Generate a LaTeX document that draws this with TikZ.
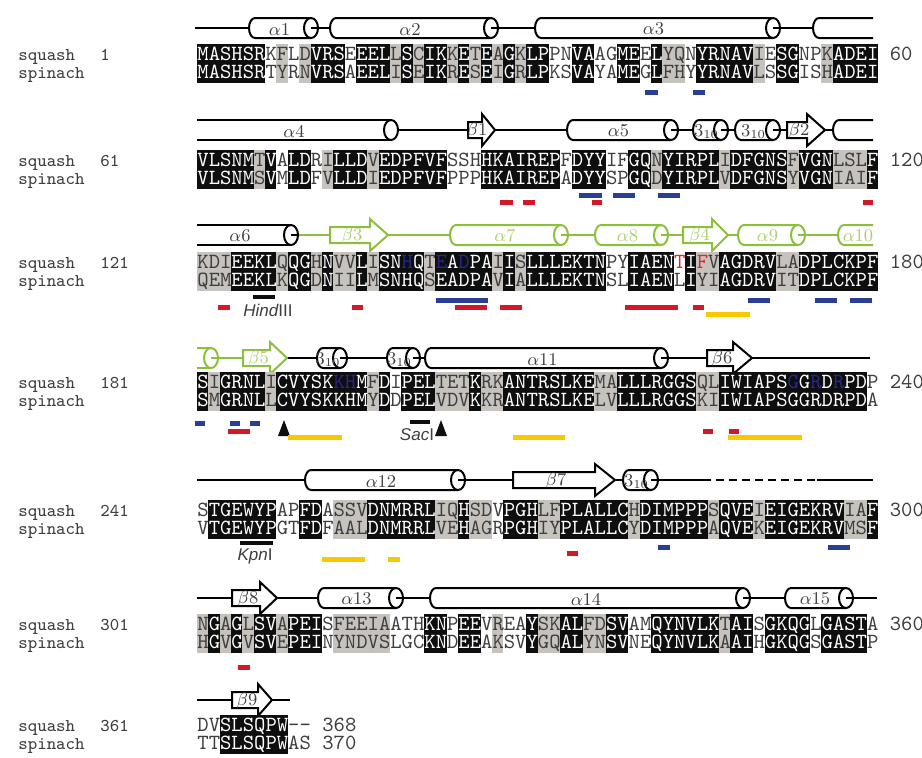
\documentclass[tikz,border=0pt]{standalone}
\usepackage{fontspec}
\usepackage{xstring}
\usepackage{etoolbox}
\newfontfamily\labelsans{Liberation Sans}
\definecolor{IdBlack}{RGB}{14,14,14}
\definecolor{SimGray}{RGB}{198,194,190}
\definecolor{ResDark}{RGB}{62,62,62}
\definecolor{ResBlue}{RGB}{38,40,140}
\definecolor{ResRed}{RGB}{225,40,40}
\definecolor{SiteRed}{RGB}{212,24,40}
\definecolor{SiteBlue}{RGB}{42,62,150}
\definecolor{SiteYellow}{RGB}{248,200,0}
\definecolor{LeafGreen}{RGB}{140,192,60}

\newcommand{\seqfont}{\ttfamily\fontsize{10.81}{12}\selectfont}
\newcommand{\cw}{11.35}

% one block of the alignment: #1 squash baseline, #2 columns, #3 squash, #4 spinach,
% #5 grey columns, #6 column/colour pairs for coloured squash residues
\newcommand{\alignrows}[6]{%
  \ifx\relax#6\relax\else
    \foreach \rpos/\tint in {#6} {\expandafter\xdef\csname rtint#1-\rpos\endcsname{\tint}}%
  \fi
  \ifx\relax#5\relax\else
    \foreach \g in {#5} {\fill[SimGray] ({197+(\g-1)*\cw},#1-16) rectangle ({197+\g*\cw},#1+23);}
  \fi
  \gdef\rowA{}\gdef\rowB{}%
  \foreach \i in {1,...,#2} {%
    \StrChar{#3}{\i}[\resA]\StrChar{#4}{\i}[\resB]%
    \ifx\resA\resB
      \fill[IdBlack] ({197+(\i-1)*\cw},#1-16) rectangle ({197+\i*\cw},#1+23);
      \def\rescol{white}%
    \else
      \def\rescol{ResDark}%
    \fi
    \ifcsname rtint#1-\i\endcsname
      \edef\sqcol{\csname rtint#1-\i\endcsname}%
    \else
      \let\sqcol\rescol
    \fi
    \xappto\rowA{\noexpand\textcolor{\sqcol}{\resA}}%
    \xappto\rowB{\noexpand\textcolor{\rescol}{\resB}}%
  }%
  \node[res] (sq-#1) at (197,#1) {\rowA};
  \node[res] (sp-#1) at (197,#1+18) {\rowB};
}
% helix: [colour] x start, x end, y, label
\newcommand{\helix}[5][black]{%
  \draw[ss, #1, fill=white] ({#3-7},#4-10) -- ({#2+6},#4-10) arc[start angle=270, end angle=90, x radius=6, y radius=10] -- ({#3-7},#4+10);
  \draw[ss, #1, fill=white] ({#3-7},#4) ellipse[x radius=7, y radius=10];
  \draw[ss, #1] ({#3-7},#4) -- (#3,#4);
  \node[sslabel, text=#1!75] at ({(#2+#3)/2-4},#4+1) {#5};
}
% strand: [colour] x start, end of body, tip, y, label
\newcommand{\strand}[6][black]{%
  \draw[ss, #1, fill=white] (#2,#5-8) -- (#3,#5-8) -- (#3,#5-16) -- (#4,#5) -- (#3,#5+16) -- (#3,#5+8) -- (#2,#5+8) -- cycle;
  \node[sslabel, text=#1!75] at ({(#2+#3)/2+2},#5+1) {#6};
}
\newcommand{\site}[4]{\fill[#1] (#2,#4-2.5) rectangle (#3,#4+2.5);}
\newcommand{\cutmark}[2]{\fill[IdBlack] (#1,#2-8) -- (#1+6,#2+8) -- (#1-6,#2+8) -- cycle;}

\begin{document}
\begin{tikzpicture}[x=0.5pt, y=-0.5pt,
    res/.style={anchor=base west, inner sep=0pt, text height=6.7pt, text depth=0pt, font=\seqfont},
    rowname/.style={anchor=base west, inner sep=0pt, text height=6pt, text depth=0pt, font=\ttfamily\fontsize{9}{10}\selectfont, text=ResDark},
    ss/.style={line width=1pt},
    sslabel/.style={inner sep=0pt, font=\fontsize{9}{10}\selectfont},
    enzyme/.style={inner sep=0pt, font=\labelsans\fontsize{8.5}{10}\selectfont, text=ResDark}]
  \useasboundingbox (0,0) rectangle (922,757);

  % Residues 1-60
  \draw[ss] (195,28) -- (873,28);
  \helix{249}{318}{28}{$\alpha$1}
  \helix{330}{498}{28}{$\alpha$2}
  \helix{535}{780}{28}{$\alpha$3}
  \draw[ss, fill=white] (873,18) -- (819,18) arc[start angle=270, end angle=90, x radius=6, y radius=10] -- (873,38);
  \node[rowname] (sq1) at (18,60) {squash};
  \node[rowname] (sq1n) at (100,60) {1};
  \node[rowname] (sp1) at (18,78) {spinach};
  \alignrows{60}{60}{MASHSRKFLDVRSEEELLSCIKKETEAGKLPPNVAAGMEELYQNYRNAVIESGNPKADEI}{MASHSRTYRNVRSAEELISEIKRESEIGRLPKSVAYAMEGLFHYYRNAVLSSGISHADEI}{8,10,18,20,23,25,27,29,42,43,50,56}{}
  \node[res, text=ResDark] (end1) at (889.4,60) {60};
  \site{SiteBlue}{645}{658}{92}
  \site{SiteBlue}{693}{705}{92}

  % Residues 61-120
  \draw[ss] (197,130) -- (873,130);
  \fill[white] (197,120) rectangle (391,140);
  \draw[ss] (197,120) -- (391,120) (197,140) -- (391,140);
  \draw[ss, fill=white] (391,130) ellipse[x radius=7, y radius=10];
  \node[sslabel, text=black!75] at (294,131) {$\alpha$4};
  \strand{468}{482}{495}{130}{$\beta$1}
  \helix{567}{678}{130}{$\alpha$5}
  \helix{693}{728}{130}{3$_{10}$}
  \helix{735}{780}{130}{3$_{10}$}
  \strand{787}{807}{825}{130}{$\beta$2}
  \draw[ss, fill=white] (873,120) -- (839,120) arc[start angle=270, end angle=90, x radius=6, y radius=10] -- (873,140);
  \node[rowname] (sq2) at (18,166) {squash};
  \node[rowname] (sq2n) at (100,166) {61};
  \node[rowname] (sp2) at (18,184) {spinach};
  \alignrows{166}{60}{VLSNMTVALDRILLDVEDPFVFSSHHKAIREPFDYYIFGQNYIRPLIDFGNSFVGNLSLF}{VLSNMSVMLDFVLLDIEDPFVFPPPHKAIREPADYYSPGQDYIRPLVDFGNSYVGNIAIF}{6,12,16,41,47,53,57,58,59}{}
  \node[res, text=ResDark] (end2) at (889.4,166) {120};
  \site{SiteRed}{500}{513}{202}
  \site{SiteRed}{523}{535}{202}
  \site{SiteBlue}{579}{602}{195}
  \site{SiteBlue}{613}{635}{195}
  \site{SiteBlue}{658}{680}{195}
  \site{SiteRed}{592}{602}{202}
  \site{SiteRed}{863}{873}{202}

  % Residues 121-180
  \fill[white] (197,225) rectangle (291,245);
  \draw[ss] (197,225) -- (291,225) (197,245) -- (291,245);
  \draw[ss, LeafGreen] (298,235) -- (873,235);
  \draw[ss, fill=white] (291,235) ellipse[x radius=7, y radius=10];
  \draw[ss] (291,235) -- (298,235);
  \node[sslabel, text=black!75] at (240,236) {$\alpha$6};
  \strand[LeafGreen]{330}{370}{388}{235}{$\beta$3}
  \helix[LeafGreen]{450}{568}{235}{$\alpha$7}
  \helix[LeafGreen]{595}{668}{235}{$\alpha$8}
  \strand[LeafGreen]{683}{712}{728}{235}{$\beta$4}
  \helix[LeafGreen]{738}{805}{235}{$\alpha$9}
  \draw[ss, LeafGreen, fill=white] (873,225) -- (844,225) arc[start angle=270, end angle=90, x radius=6, y radius=10] -- (873,245);
  \node[sslabel, text=LeafGreen!75] at (858,236) {$\alpha$10};
  \node[rowname] (sq3) at (18,268) {squash};
  \node[rowname] (sq3n) at (100,268) {121};
  \node[rowname] (sp3) at (18,286) {spinach};
  \alignrows{268}{60}{KDIEEKLQQGHNVVLISNHQTEADPAIISLLLEKTNPYIAENTIFVAGDRVLADPLCKPF}{QEMEEKLKQGDNIILMSNHQSEADPAVIALLLEKTNSLIAENLIYIAGDRVITDPLCKPF}{1,2,3,8,11,13,14,16,21,27,29,45,46,52,53}{19/ResBlue,22/ResBlue,24/ResBlue,43/ResRed,45/ResRed}
  \node[res, text=ResDark] (end3) at (889.4,268) {180};
  \site{SiteRed}{218}{230}{307}
  \fill[IdBlack] (253,295) rectangle (275,299);
  \node[enzyme] (hind) at (268,310) {\itshape Hind\upshape III};
  \site{SiteRed}{352}{363}{307}
  \site{SiteBlue}{436}{488}{300}
  \site{SiteRed}{455}{487}{307}
  \site{SiteRed}{500}{522}{307}
  \site{SiteRed}{625}{678}{307}
  \site{SiteRed}{693}{704}{307}
  \site{SiteYellow}{706}{750}{314}
  \site{SiteBlue}{748}{770}{300}
  \site{SiteBlue}{815}{837}{300}
  \site{SiteBlue}{850}{872}{300}

  % Residues 181-240
  \fill[white] (197,348) rectangle (211,368);
  \draw[ss, LeafGreen] (197,348) -- (211,348) (197,368) -- (211,368);
  \draw[ss, LeafGreen, fill=white] (211,358) ellipse[x radius=7, y radius=10];
  \draw[ss, LeafGreen] (211,358) -- (243,358);
  \draw[ss] (287,358) -- (870,358);
  \strand[LeafGreen]{243}{270}{287}{358}{$\beta$5}
  \helix{317}{347}{358}{3$_{10}$}
  \helix{387}{420}{358}{3$_{10}$}
  \helix{425}{668}{358}{$\alpha$11}
  \strand{707}{733}{752}{358}{$\beta$6}
  \node[rowname] (sq4) at (18,388) {squash};
  \node[rowname] (sq4n) at (100,388) {181};
  \node[rowname] (sp4) at (18,406) {spinach};
  \alignrows{388}{60}{SIGRNLICVYSKKHMFDIPELTETKRKANTRSLKEMALLLRGGSQLIWIAPSGGRDRPDP}{SMGRNLLCVYSKKHMYDDPELVDVKKRANTRSLKELVLLLRGGSKIIWIAPSGGRDRPDA}{2,7,16,22,23,24,26,27,36,37,45,46}{13/ResBlue,14/ResBlue,53/ResBlue,55/ResBlue,57/ResBlue}
  \node[res, text=ResDark] (end4) at (889.4,388) {240};
  \site{SiteBlue}{195}{205}{423}
  \site{SiteBlue}{230}{240}{423}
  \site{SiteBlue}{250}{260}{423}
  \site{SiteRed}{228}{250}{431}
  \cutmark{284}{428}
  \site{SiteYellow}{288}{342}{437}
  \fill[IdBlack] (410,420) rectangle (430,424);
  \node[enzyme] (sac) at (417,435) {\itshape Sac\upshape I};
  \cutmark{441}{428}
  \site{SiteYellow}{513}{565}{437}
  \site{SiteRed}{703}{713}{431}
  \site{SiteRed}{729}{739}{431}
  \site{SiteYellow}{728}{802}{437}

  % Residues 241-300
  \draw[ss] (197,480) -- (703,480);
  \draw[ss, dash pattern=on 4pt off 2.5pt] (703,480) -- (817,480);
  \draw[ss] (817,480) -- (873,480);
  \helix{305}{465}{480}{$\alpha$12}
  \strand{513}{595}{615}{480}{$\beta$7}
  \helix{623}{658}{480}{3$_{10}$}
  \node[rowname] (sq5) at (18,516) {squash};
  \node[rowname] (sq5n) at (100,516) {241};
  \node[rowname] (sp5) at (18,534) {spinach};
  \alignrows{516}{60}{STGEWYPAPFDASSVDNMRRLIQHSDVPGHLFPLALLCHDIMPPPSQVEIEIGEKRVIAF}{VTGEWYPGTFDFAALDNMRRLVEHAGRPGHIYPLALLCYDIMPPPAQVEKEIGEKRVMSF}{13,14,15,22,23,25,26,31,32,39,46,50,58,59}{}
  \node[res, text=ResDark] (end5) at (889.4,516) {300};
  \fill[IdBlack] (240,541) rectangle (273,545);
  \node[enzyme] (kpn) at (255,556) {\itshape Kpn\upshape I};
  \site{SiteYellow}{322}{365}{559}
  \site{SiteYellow}{388}{400}{559}
  \site{SiteRed}{567}{578}{553}
  \site{SiteBlue}{658}{670}{547}
  \site{SiteBlue}{828}{850}{547}

  % Residues 301-360
  \draw[ss] (197,598) -- (877,598);
  \strand{232}{260}{277}{598}{$\beta$8}
  \helix{318}{403}{598}{$\alpha$13}
  \helix{430}{750}{598}{$\alpha$14}
  \helix{785}{853}{598}{$\alpha$15}
  \node[rowname] (sq6) at (18,630) {squash};
  \node[rowname] (sq6n) at (100,630) {301};
  \node[rowname] (sp6) at (18,648) {spinach};
  \alignrows{630}{60}{NGAGLSVAPEISFEEIAATHKNPEEVREAYSKALFDSVAMQYNVLKTAISGKQGLGASTA}{HGVGVSVEPEINYNDVSLGCKNDEEAKSVYGQALYNSVNEQYNVLKAAIHGKQGSGASTP}{1,3,5,8,13,14,15,16,17,27,31,32,35,36,47}{}
  \node[res, text=ResDark] (end6) at (889.4,630) {360};
  \site{SiteRed}{238}{250}{667}

  % Residues 361-370
  \draw[ss] (197,700) -- (290,700);
  \strand{232}{258}{272}{700}{$\beta$9}
  \node[rowname] (sq7) at (18,731) {squash};
  \node[rowname] (sq7n) at (100,731) {361};
  \node[rowname] (sp7) at (18,749) {spinach};
  \alignrows{731}{10}{DVSLSQPW--}{TTSLSQPWAS}{}{}
  \node[res, text=ResDark] (end7a) at (321.9,731) {368};
  \node[res, text=ResDark] (end7b) at (321.9,749) {370};
\end{tikzpicture}
\end{document}
